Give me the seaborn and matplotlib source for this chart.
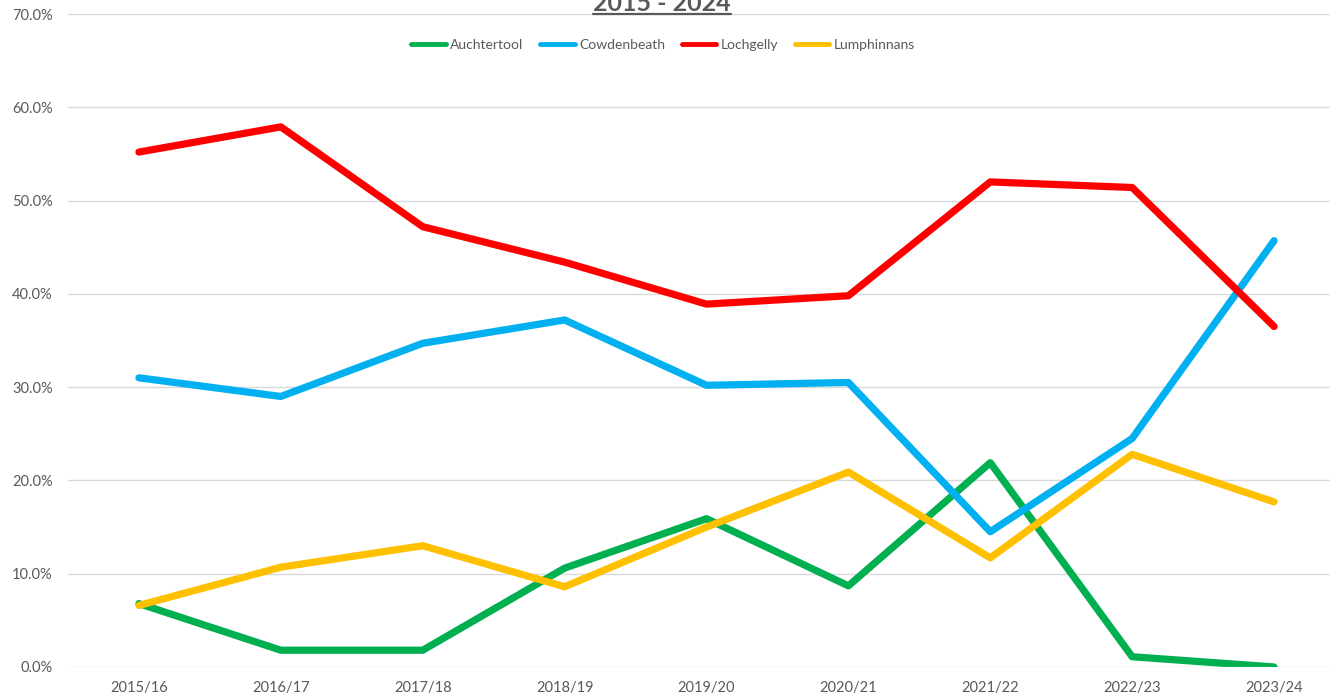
import pandas as pd
import matplotlib
matplotlib.use("Agg")
import matplotlib.pyplot as plt
import seaborn as sns
from matplotlib.ticker import PercentFormatter
from matplotlib.lines import Line2D

sns.set_theme(style="whitegrid")
plt.rcParams['font.family'] = ['Lato', 'DejaVu Sans']

seasons = ['2015/16', '2016/17', '2017/18', '2018/19', '2019/20',
           '2020/21', '2021/22', '2022/23', '2023/24']

auchtertool = [6.8, 1.8, 1.8, 10.6, 15.9, 8.7, 21.9, 1.1, 0.0]
cowdenbeath = [31.0, 29.0, 34.7, 37.2, 30.2, 30.5, 14.5, 24.5, 45.7]
lochgelly = [55.2, 57.9, 47.2, 43.4, 38.9, 39.8, 52.0, 51.4, 36.5]
lumphinnans = [6.6, 10.7, 13.0, 8.6, 15.0, 20.9, 11.7, 22.8, 17.7]

towns = ['Auchtertool', 'Cowdenbeath', 'Lochgelly', 'Lumphinnans']
colours = ['#00B050', '#00B0F0', '#FF0000', '#FFC000']

df = pd.DataFrame({
    'Season': seasons * 4,
    'Town': [t for t in towns for _ in seasons],
    'Share': auchtertool + cowdenbeath + lochgelly + lumphinnans,
})

grey = '#595959'

fig = plt.figure(figsize=(13.3, 6.96), dpi=100)
ax = fig.add_axes([68 / 1330, 1 - 667 / 696, (1345 - 68) / 1330, (667 - 14) / 696])

sns.lineplot(data=df, x='Season', y='Share', hue='Town', palette=colours,
             sort=False, linewidth=5.2, solid_capstyle='round', ax=ax)

ax.set_xlim(-0.5, len(seasons) - 0.5)
ax.set_ylim(0, 70)
ax.set_yticks(range(0, 71, 10))
ax.yaxis.set_major_formatter(PercentFormatter(decimals=1))
ax.set_xlabel('')
ax.set_ylabel('')
ax.grid(axis='x', visible=False)
ax.grid(axis='y', color='#D9D9D9', linewidth=1)
for s in ax.spines.values():
    s.set_visible(False)
ax.tick_params(axis='both', length=0, labelsize=10.5, labelcolor=grey)
ax.tick_params(axis='x', pad=10)
ax.tick_params(axis='y', pad=11)

handles, labels = ax.get_legend_handles_labels()
ax.get_legend().remove()
leg = fig.legend(handles, labels, loc='center', bbox_to_anchor=(663 / 1330, 1 - 45 / 696),
                 ncol=4, frameon=False, fontsize=10, labelcolor=grey,
                 handlelength=2.5, handletextpad=0.3, columnspacing=1.2)
for h in leg.get_lines():
    h.set_linewidth(3.5)

# title, underlined
title = fig.text(662 / 1330, 1 - 11 / 696, '2015 - 2024', ha='center', va='baseline',
                 fontsize=18, fontweight='bold', color=grey)
fig.canvas.draw()
bb = title.get_window_extent().transformed(fig.transFigure.inverted())
uy = 1 - 14 / 696
fig.add_artist(Line2D([bb.x0, bb.x1], [uy, uy], transform=fig.transFigure,
                      color=grey, linewidth=1.6))

fig.savefig('out.png', dpi=100)
